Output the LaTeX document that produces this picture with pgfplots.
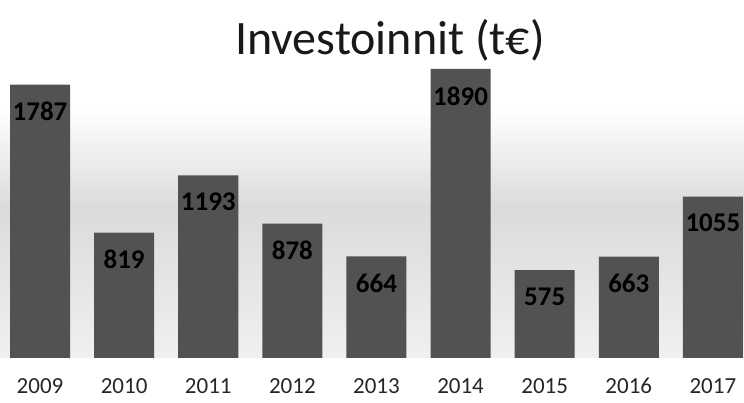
\documentclass[border=0pt]{standalone}
\usepackage{pgfplots}
\pgfplotsset{compat=1.18}
\usepackage{fontspec}
\setmainfont{Carlito}
\begin{document}
\begin{tikzpicture}[x=1pt,y=1pt]
\path[use as bounding box] (0,-45) rectangle (744,358);
\shade[top color=white, bottom color=black!14] (0,150) rectangle (744,250);
\shade[top color=black!14, bottom color=black!6] (0,0) rectangle (744,150);
\begin{axis}[
  at={(0,0)}, anchor=south west,
  scale only axis, width=744pt, height=358pt,
  xmin=-0.476, xmax=8.37, ymin=0, ymax=2340,
  axis line style={draw=none},
  ytick=\empty,
  xtick={0,...,8},
  xticklabels={2009,2010,2011,2012,2013,2014,2015,2016,2017},
  major tick length=0pt,
  xticklabel style={font=\fontsize{23}{25}\selectfont, anchor=base, yshift=-36pt, text=black!85},
  clip=false,
]
\addplot[ybar, bar width=60pt, fill=black!68, draw=none,
  nodes near coords, point meta=explicit symbolic,
  every node near coord/.append style={anchor=north, yshift=-14pt,
    font=\bfseries\fontsize{27}{29}\selectfont, text=black}]
  table[meta=l] {
x y l
0 1787 1787
1 819 819
2 1193 1193
3 878 878
4 664 664
5 1890 1890
6 575 575
7 663 663
8 1055 1055
};
\end{axis}
\node[anchor=base, font=\fontsize{48}{52}\selectfont, text=black!90] at (390,303) {Investoinnit (t€)};
\end{tikzpicture}
\end{document}
